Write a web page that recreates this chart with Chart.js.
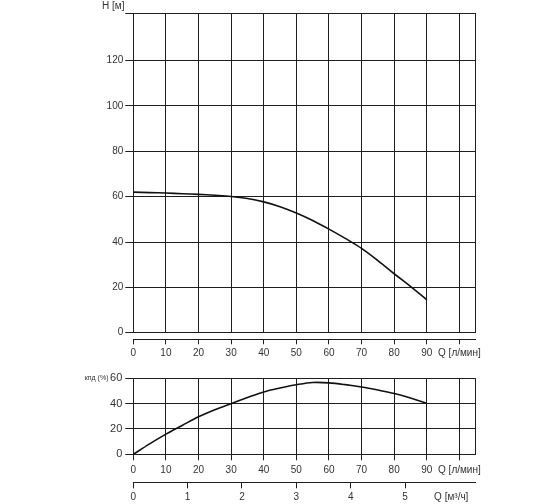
<!DOCTYPE html>
<html>
<head>
<meta charset="utf-8">
<script src="https://cdn.jsdelivr.net/npm/chart.js@4.4.0/dist/chart.umd.min.js"></script>
<style>
  html, body { margin: 0; padding: 0; background: #fff; }
  #wrap { position: relative; width: 560px; height: 504px; }
  #c1 { position: absolute; left: 0; top: 0; }
  #c2 { position: absolute; left: 0; top: 360px; }
</style>
</head>
<body>
<div id="wrap">
  <canvas id="c1" width="560" height="360" style="width:560px;height:360px"></canvas>
  <canvas id="c2" width="560" height="144" style="width:560px;height:144px"></canvas>
</div>
<script>
// ---- data ----
const flowLpm = [0, 5, 10, 15, 20, 25, 30, 35, 40, 45, 50, 55, 60, 65, 70, 75, 80, 85, 90];
const headM   = [62.0, 61.8, 61.6, 61.3, 61.0, 60.6, 60.1, 59.2, 57.7, 55.6, 52.8, 49.5, 45.7, 41.6, 37.2, 31.8, 26.0, 20.4, 14.5];
const effPct  = [0, 8.2, 15.9, 22.8, 29.6, 35.2, 40.0, 44.8, 49.2, 52.3, 54.9, 56.7, 56.4, 55.0, 53.1, 50.7, 48.0, 44.4, 40.3];

const headTicks = [0, 20, 40, 60, 80, 100, 120];
const effTicks = [0, 20, 40, 60];
const qTicks = [0, 10, 20, 30, 40, 50, 60, 70, 80, 90, 100];
const qTickLabels = ['0', '10', '20', '30', '40', '50', '60', '70', '80', '90', 'Q [л/мин]'];
const m3Ticks = [0, 1, 2, 3, 4, 5];
const m3TickLabels = ['0', '1', '2', '3', '4', '5'];
const m3AxisLabel = 'Q [м³/ч]';
const headTitle = 'H [м]';
const effTitle = 'кпд (%)';

const Q_MAX = 105;
const H_MAX = 141;
const LPM_PER_M3H = 1000 / 60;

const FONT = 'Liberation Sans, Arial, sans-serif';
const GRID = '#1e1e1e';
const TXT = '#333';

function pts(xs, ys) { return xs.map((x, i) => ({ x: x, y: ys[i] })); }

// ---------------- top chart: head ----------------
new Chart(document.getElementById('c1'), {
  type: 'line',
  data: {
    datasets: [{
      data: pts(flowLpm, headM),
      borderColor: '#111',
      borderWidth: 1.6,
      pointRadius: 0,
      tension: 0.35,
      fill: false
    }]
  },
  options: {
    responsive: false,
    animation: false,
    events: [],
    layout: { padding: { left: 102, right: 84.3, top: 0, bottom: 0 } },
    plugins: {
      legend: { display: false },
      tooltip: { enabled: false },
      title: {
        display: true,
        text: headTitle,
        align: 'start',
        color: TXT,
        font: { family: FONT, size: 10, weight: 'normal' },
        padding: { top: 0, bottom: 1 }
      }
    },
    scales: {
      x: {
        type: 'linear',
        position: 'bottom',
        weight: 0,
        min: 0, max: Q_MAX,
        afterBuildTicks: s => { s.ticks = qTicks.concat([Q_MAX]).map(v => ({ value: v })); },
        afterFit: s => { s.height = 6.6; },
        grid: { color: GRID, lineWidth: 1, drawTicks: false, drawOnChartArea: true },
        border: { display: false },
        ticks: { display: false }
      },
      x2: {
        type: 'linear',
        position: 'bottom',
        weight: 1,
        min: 0, max: Q_MAX,
        afterBuildTicks: s => { s.ticks = qTicks.map(v => ({ value: v })); },
        afterFit: s => { s.height = 20.7; },
        grid: { color: GRID, lineWidth: 1, drawTicks: true, tickLength: 5, drawOnChartArea: false },
        border: { display: true, color: GRID, width: 1 },
        ticks: {
          autoSkip: false, maxRotation: 0, padding: 2.5, color: TXT,
          font: { family: FONT, size: 10 },
          callback: (v, i) => qTickLabels[i]
        }
      },
      y: {
        type: 'linear',
        position: 'left',
        min: 0, max: H_MAX,
        afterBuildTicks: s => { s.ticks = headTicks.concat([H_MAX]).map(v => ({ value: v })); },
        afterFit: s => { s.width = 31.3; },
        grid: { color: GRID, lineWidth: 1, drawTicks: true, tickLength: 8 },
        border: { display: true, color: GRID, width: 1 },
        ticks: {
          padding: 2, color: TXT,
          font: { family: FONT, size: 10 },
          callback: v => (headTicks.indexOf(v) >= 0 ? String(v) : '')
        }
      }
    }
  }
});

// ---------------- bottom chart: efficiency ----------------
new Chart(document.getElementById('c2'), {
  type: 'line',
  data: {
    datasets: [{
      data: pts(flowLpm, effPct),
      borderColor: '#111',
      borderWidth: 1.6,
      pointRadius: 0,
      tension: 0.35,
      fill: false
    }]
  },
  options: {
    responsive: false,
    animation: false,
    events: [],
    layout: { padding: { left: 60, right: 84.3, top: 18.3, bottom: 0 } },
    plugins: { legend: { display: false }, tooltip: { enabled: false }, title: { display: false } },
    scales: {
      x: {
        type: 'linear',
        position: 'bottom',
        weight: 0,
        min: 0, max: Q_MAX,
        afterBuildTicks: s => { s.ticks = qTicks.concat([Q_MAX]).map(v => ({ value: v })); },
        afterFit: s => { s.height = 28; },
        grid: {
          color: GRID, lineWidth: 1, drawTicks: true, tickLength: 6, drawOnChartArea: true,
          tickColor: c => (c.index === qTicks.length ? 'rgba(0,0,0,0)' : GRID)
        },
        border: { display: true, color: GRID, width: 1 },
        ticks: {
          autoSkip: false, maxRotation: 0, padding: 4, color: TXT,
          font: { family: FONT, size: 10 },
          callback: (v, i) => (i < qTickLabels.length ? qTickLabels[i] : '')
        }
      },
      x3: {
        type: 'linear',
        position: 'bottom',
        weight: 1,
        min: 0, max: Q_MAX / LPM_PER_M3H,
        afterBuildTicks: s => { s.ticks = m3Ticks.concat([5.85]).map(v => ({ value: v })); },
        afterFit: s => { s.height = 21.7; },
        grid: {
          color: GRID, lineWidth: 1, drawTicks: true, tickLength: 6, drawOnChartArea: false,
          tickColor: c => (c.index >= m3Ticks.length ? 'rgba(0,0,0,0)' : GRID)
        },
        border: { display: true, color: GRID, width: 1 },
        ticks: {
          autoSkip: false, maxRotation: 0, padding: 3, color: TXT,
          font: { family: FONT, size: 10 },
          callback: (v, i) => (i < m3TickLabels.length ? m3TickLabels[i] : m3AxisLabel)
        }
      },
      y: {
        type: 'linear',
        position: 'left',
        weight: 0,
        min: 0, max: 60,
        afterBuildTicks: s => { s.ticks = effTicks.map(v => ({ value: v })); },
        afterFit: s => { s.width = 23.3; },
        grid: { color: GRID, lineWidth: 1, drawTicks: true, tickLength: 8 },
        border: { display: true, color: GRID, width: 1 },
        ticks: { padding: 3, color: TXT, font: { family: FONT, size: 11 } }
      },
      y2: {
        type: 'linear',
        position: 'left',
        weight: 1,
        min: 0, max: 60,
        afterBuildTicks: s => { s.ticks = [{ value: 60 }]; },
        afterFit: s => { s.width = 50; },
        grid: { display: false, drawTicks: false, tickLength: 0 },
        border: { display: false },
        ticks: { padding: 1.5, color: TXT, font: { family: FONT, size: 7 }, callback: () => effTitle }
      }
    }
  }
});
</script>
</body>
</html>
